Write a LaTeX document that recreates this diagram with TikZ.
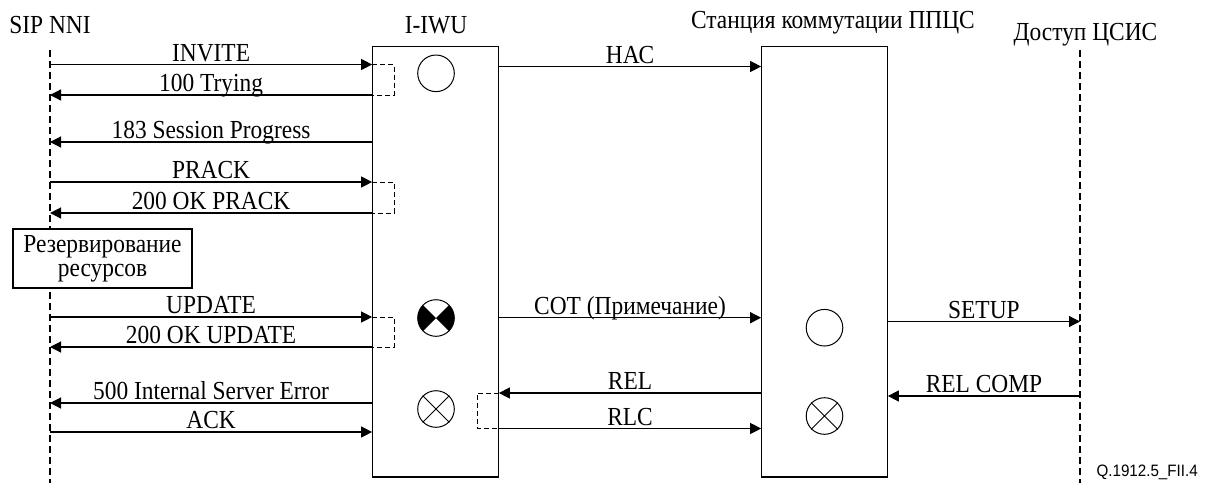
\documentclass[tikz,border=0pt]{standalone}
\usepackage{fontspec}
\setmainfont{Liberation Serif}[FakeStretch=0.9]
\newfontfamily\qfont{Liberation Sans}[FakeStretch=0.92]
\usetikzlibrary{arrows.meta}
\begin{document}
\begin{tikzpicture}[x=1pt,y=-1pt,
  every node/.style={font=\fontsize{26}{24}\selectfont},
  lane/.style={draw,line width=1.2pt,inner sep=0pt,minimum width=125.5pt,minimum height=430.5pt},
  life/.style={line width=1.4pt,dash pattern=on 7pt off 4pt},
  msg/.style={line width=1.2pt,-{Triangle[length=11pt,width=11pt]}},
  lbl/.style={anchor=base,yshift=3.5pt,inner sep=0pt},
  brk/.style={line width=1pt,dash pattern=on 5pt off 3pt},
  ring/.style={draw,circle,line width=1pt,minimum size=36.6pt,inner sep=0pt},
  note/.style={draw,line width=1.2pt,fill=white,minimum width=179pt,minimum height=59pt,inner sep=0pt,align=center}
]
\useasboundingbox (0,0) rectangle (1210,483);

% headers
\node[anchor=base] (hsip) at (50,33) {SIP NNI};
\node[anchor=base] (hiwu) at (436,33) {I-IWU};
\node[anchor=base] (hst) at (833,28) {Станция коммутации ППЦС};
\node[anchor=base] (hacc) at (1085.5,40) {Доступ ЦСИС};
\node[anchor=base west,font=\qfont\fontsize{16.5}{17}\selectfont] (fig) at (1093,476.5) {Q.1912.5\_FII.4};

% lifelines and boxes
\coordinate (sipT) at (50,50);
\coordinate (sipB) at (50,483);
\coordinate (accT) at (1080,50);
\coordinate (accB) at (1080,483);
\draw[life] (sipT) -- (sipB);
\draw[life] (accT) -- (accB);
\node[lane] (iwu) at (435.5,261.75) {};
\node[lane] (st) at (824.5,261.75) {};

% note box
\node[note] (res) at (102.5,258.5) {Резервирование\\ресурсов};

% SIP side messages
\draw[msg] (sipT|-0,64.5) -- node[lbl] {INVITE} (iwu.west|-0,64.5);
\draw[msg] (iwu.west|-0,95) -- node[lbl] {100 Trying} (sipT|-0,95);
\draw[brk] (iwu.west|-0,64.5) -- (394,64.5) -- (394,95) -- (iwu.west|-0,95);
\draw[msg] (iwu.west|-0,142) -- node[lbl] {183 Session Progress} (sipT|-0,142);
\draw[msg] (sipT|-0,182) -- node[lbl] {PRACK} (iwu.west|-0,182);
\draw[msg] (iwu.west|-0,213) -- node[lbl] {200 OK PRACK} (sipT|-0,213);
\draw[brk] (iwu.west|-0,182) -- (394,182) -- (394,213) -- (iwu.west|-0,213);
\draw[msg] (sipT|-0,317) -- node[lbl] {UPDATE} (iwu.west|-0,317);
\draw[msg] (iwu.west|-0,347) -- node[lbl] {200 OK UPDATE} (sipT|-0,347);
\draw[brk] (iwu.west|-0,317) -- (394,317) -- (394,347) -- (iwu.west|-0,347);
\draw[msg] (iwu.west|-0,403) -- node[lbl] {500 Internal Server Error} (sipT|-0,403);
\draw[msg] (sipT|-0,432) -- node[lbl] {ACK} (iwu.west|-0,432);

% ISUP side
\draw[msg] (iwu.east|-0,66.5) -- node[lbl] {НАС} (st.west|-0,66.5);
\draw[msg] (iwu.east|-0,317.7) -- node[lbl] {СОТ (Примечание)} (st.west|-0,317.7);
\draw[msg] (st.west|-0,393) -- node[lbl] {REL} (iwu.east|-0,393);
\draw[msg] (iwu.east|-0,428.5) -- node[lbl] {RLC} (st.west|-0,428.5);
\draw[brk] (iwu.east|-0,393) -- (477,393) -- (477,428.5) -- (iwu.east|-0,428.5);

% access side
\draw[msg] (st.east|-0,321.5) -- node[lbl] {SETUP} (accT|-0,321.5);
\draw[msg] (accT|-0,396) -- node[lbl] {REL COMP} (st.east|-0,396);

% state symbols
\node[ring] (s1) at (436,73.3) {};
\node[ring] (s2) at (436,318) {};
\fill (s2.center) -- ++(135:18.3) arc[start angle=135,end angle=225,radius=18.3] -- cycle;
\fill (s2.center) -- ++(-45:18.3) arc[start angle=-45,end angle=45,radius=18.3] -- cycle;
\node[ring] (s3) at (436,409) {};
\draw[line width=1pt] (s3.45) -- (s3.225) (s3.135) -- (s3.315);
\node[ring] (s4) at (824.5,327.7) {};
\node[ring] (s5) at (824.5,416) {};
\draw[line width=1pt] (s5.45) -- (s5.225) (s5.135) -- (s5.315);
\end{tikzpicture}
\end{document}
